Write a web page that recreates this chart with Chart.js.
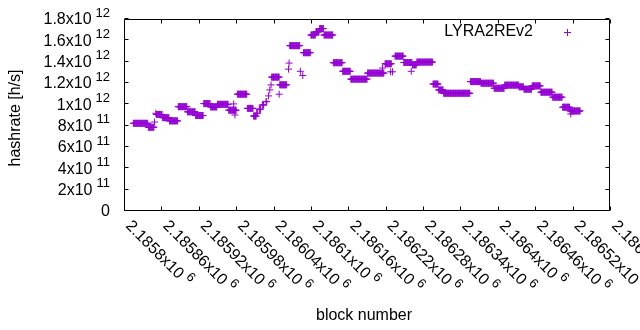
<!DOCTYPE html>
<html>
<head>
<meta charset="utf-8">
<script src="https://cdn.jsdelivr.net/npm/chart.js@4.4.1/dist/chart.umd.min.js"></script>
<style>
  body { margin: 0; background: #fff; }
  #wrap { width: 640px; height: 330px; position: relative; }
</style>
</head>
<body>
<div id="wrap"><canvas id="hashrateChart"></canvas></div>
<script>
// hashrate stays flat over runs of blocks: first block, last block, value of each run
const runFirstBlock = [
  2185815, 2185839, 2185849, 2185851, 2185852, 2185862, 2185873, 2185887, 2185902, 2185915,
  2185928, 2185939, 2185950, 2185968, 2185982, 2185998, 2186008, 2186013, 2186017, 2186022,
  2186028, 2186032, 2186034, 2186036, 2186037, 2186050, 2186066, 2186088, 2186100, 2186108,
  2186114, 2186121, 2186136, 2186151, 2186164, 2186191, 2186219, 2186235, 2186249, 2186263,
  2186270, 2186296, 2186305, 2186313, 2186356, 2186373, 2186394, 2186411, 2186434, 2186442,
  2186455, 2186469, 2186488, 2186504, 2186516
]
const runLastBlock = [
  2185838, 2185848, 2185849, 2185851, 2185861, 2185872, 2185886, 2185901, 2185914, 2185927,
  2185938, 2185949, 2185967, 2185980, 2185997, 2186007, 2186012, 2186014, 2186019, 2186024,
  2186029, 2186032, 2186034, 2186036, 2186049, 2186061, 2186082, 2186099, 2186107, 2186113,
  2186120, 2186135, 2186150, 2186163, 2186190, 2186217, 2186229, 2186248, 2186262, 2186269,
  2186295, 2186304, 2186312, 2186355, 2186372, 2186393, 2186410, 2186433, 2186441, 2186454,
  2186468, 2186487, 2186503, 2186515, 2186532
]
const runHashrate = [
  8.22e11, 7.85e11, 8.34e11, 9.16e11, 9.05e11, 8.75e11, 8.45e11, 9.78e11, 9.30e11, 8.95e11,
  1.007e12, 9.76e11, 1.0e12, 9.45e11, 1.095e12, 9.62e11, 8.90e11, 9.16e11, 9.54e11, 9.94e11,
  1.025e12, 1.079e12, 1.135e12, 1.182e12, 1.255e12, 1.183e12, 1.55e12, 1.484e12, 1.65e12, 1.68e12,
  1.71e12, 1.65e12, 1.39e12, 1.31e12, 1.236e12, 1.293e12, 1.38e12, 1.452e12, 1.392e12, 1.37e12,
  1.396e12, 1.19e12, 1.135e12, 1.104e12, 1.213e12, 1.198e12, 1.151e12, 1.18e12, 1.164e12, 1.142e12,
  1.173e12, 1.114e12, 1.067e12, 9.73e11, 9.38e11
]

// single points off the runs
const extraBlocks = [2185976, 2185978, 2186049, 2186064, 2186065, 2186083, 2186087, 2186215, 2186228, 2186231, 2186261, 2186517]
const extraHashrate = [1.004e12, 9.0e11, 1.095e12, 1.33e12, 1.387e12, 1.31e12, 1.27e12, 1.34e12, 1.305e12, 1.305e12, 1.31e12, 9.1e11]

const xTickValues = [2185800, 2185860, 2185920, 2185980, 2186040, 2186100, 2186160, 2186220, 2186280, 2186340, 2186400, 2186460, 2186520, 2186580]
const yTickValues = [0, 2e11, 4e11, 6e11, 8e11, 1e12, 1.2e12, 1.4e12, 1.6e12, 1.8e12]

const seriesName = "LYRA2REv2"
const purple = "#9400d3"
const fontFamily = "'Liberation Sans', Arial, sans-serif"

const points = []
for (let i = 0; i < runFirstBlock.length; i++) {
  for (let b = runFirstBlock[i]; b <= runLastBlock[i]; b++)
    points.push({ x: b, y: runHashrate[i] })
}
extraBlocks.forEach((b, i) => points.push({ x: b, y: extraHashrate[i] }))

// "1.8x10^12" style labels, split in mantissa and exponent
const splitSci = (v, digits) => {
  if (v === 0) return { m: "0", e: "" }
  const e = Math.floor(Math.log10(v) + 1e-9)
  const m = parseFloat((v / Math.pow(10, e)).toFixed(digits)).toString()
  return { m: m + "x10", e: String(e) }
}

const gnuplotLook = {
  id: "gnuplotLook",
  afterDraw(chart) {
    const { ctx, chartArea: a, scales } = chart
    const left = Math.floor(a.left) + 0.5
    const right = Math.ceil(a.right) - 0.5
    const top = Math.floor(a.top) + 0.5
    const bottom = Math.ceil(a.bottom) - 0.5
    const tic = 4

    ctx.save()
    ctx.strokeStyle = "#000"
    ctx.lineWidth = 1
    ctx.beginPath()
    ctx.rect(left, top, right - left, bottom - top)

    yTickValues.forEach(v => {
      const y = Math.round(scales.y.getPixelForValue(v)) - 0.5
      ctx.moveTo(left, y); ctx.lineTo(left + tic, y)
      ctx.moveTo(right, y); ctx.lineTo(right - tic, y)
    })
    xTickValues.forEach(v => {
      const x = Math.round(scales.x.getPixelForValue(v)) + 0.5
      ctx.moveTo(x, bottom); ctx.lineTo(x, bottom - tic)
      ctx.moveTo(x, top); ctx.lineTo(x, top + tic)
    })
    ctx.stroke()

    ctx.fillStyle = "#000"
    ctx.textBaseline = "middle"

    // y tick labels
    yTickValues.forEach(v => {
      const y = scales.y.getPixelForValue(v)
      const { m, e } = splitSci(v, 4)
      let xr = 110
      if (e) {
        ctx.font = `13px ${fontFamily}`
        ctx.textAlign = "right"
        ctx.fillText(e, xr, y - 6)
        xr -= ctx.measureText(e).width + 4
      }
      ctx.font = `16px ${fontFamily}`
      ctx.textAlign = "right"
      ctx.fillText(m, xr, y + 1)
    })

    // x tick labels, rotated down to the right
    xTickValues.forEach(v => {
      const x = scales.x.getPixelForValue(v)
      const { m, e } = splitSci(v, 5)
      ctx.save()
      ctx.translate(x + 4, bottom + 13)
      ctx.rotate(Math.PI / 4)
      ctx.textAlign = "left"
      ctx.font = `16px ${fontFamily}`
      ctx.fillText(m, 0, 0)
      const w = ctx.measureText(m).width
      ctx.font = `13px ${fontFamily}`
      ctx.fillText(e, w + 4, -6)
      ctx.restore()
    })

    // axis titles
    ctx.font = `16px ${fontFamily}`
    ctx.textAlign = "center"
    ctx.fillText("block number", 364, 316)
    ctx.save()
    ctx.translate(16, 118)
    ctx.rotate(-Math.PI / 2)
    ctx.fillText("hashrate [h/s]", 0, 0)
    ctx.restore()

    // key
    ctx.textAlign = "right"
    ctx.fillText(seriesName, 533, 32)
    ctx.strokeStyle = purple
    ctx.beginPath()
    ctx.moveTo(564, 32.5); ctx.lineTo(571, 32.5)
    ctx.moveTo(567.5, 29); ctx.lineTo(567.5, 36)
    ctx.stroke()

    ctx.restore()
  }
}

new Chart(document.getElementById("hashrateChart"), {
  type: "scatter",
  data: {
    datasets: [{
      label: seriesName,
      data: points,
      pointStyle: "cross",
      pointRadius: 3.5,
      pointBorderWidth: 1,
      borderColor: purple,
      backgroundColor: purple
    }]
  },
  options: {
    responsive: true,
    maintainAspectRatio: false,
    animation: false,
    events: [],
    layout: { padding: { left: 124, right: 30, top: 19, bottom: 119 } },
    scales: {
      x: { type: "linear", min: 2185800, max: 2186580, display: false },
      y: { type: "linear", min: 0, max: 1.8e12, display: false }
    },
    plugins: {
      legend: { display: false },
      tooltip: { enabled: false }
    }
  },
  plugins: [gnuplotLook]
})
</script>
</body>
</html>
